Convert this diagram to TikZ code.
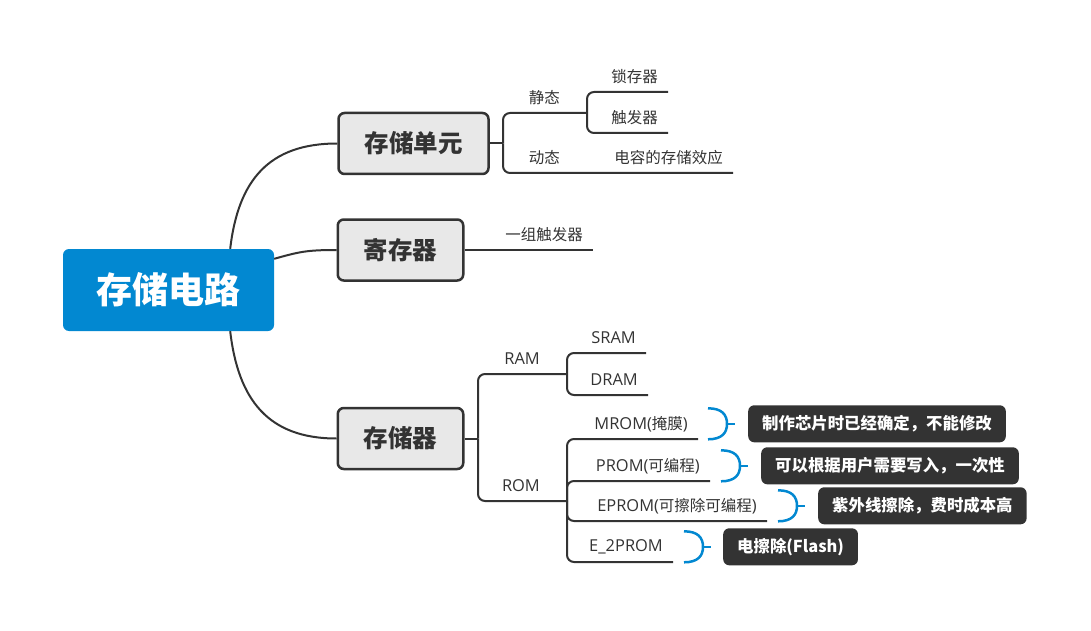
\documentclass[tikz,border=0pt]{standalone}
\usepackage{fontspec}
\setmainfont{Noto Sans CJK SC}
\newfontfamily\latin[Scale=1.06]{Open Sans}
\usetikzlibrary{positioning, calc}
\definecolor{rootblue}{HTML}{0288D1}
\definecolor{linegray}{HTML}{333333}
\definecolor{boxgray}{HTML}{E8E8E8}
\tikzstyle{root} = [rectangle, rounded corners=6pt, fill=rootblue, text=white, font=\fontsize{36}{40}\selectfont\bfseries, minimum width=211pt, minimum height=82pt]
\tikzstyle{main} = [rectangle, rounded corners=6pt, draw=linegray, line width=2.5pt, fill=boxgray, text=linegray, font=\fontsize{24.5}{28}\selectfont\bfseries, inner xsep=26pt, minimum height=61pt]
\tikzstyle{mid} = [anchor=south east, minimum height=30pt, inner xsep=27pt, inner ysep=0pt, text=linegray, font=\fontsize{15.5}{18}\selectfont]
\tikzstyle{leaf} = [mid, inner xsep=10pt]
\tikzstyle{note} = [rectangle, rounded corners=6pt, fill=linegray, text=white, font=\fontsize{16.4}{19}\selectfont\bfseries, inner xsep=14pt, minimum height=37pt]
\tikzstyle{branch} = [draw=linegray, line width=2pt, rounded corners=7pt]
\tikzstyle{brace} = [draw=rootblue, line width=2.5pt]

\begin{document}
\begin{tikzpicture}[x=1pt, y=-1pt]
\useasboundingbox (0,0) rectangle (1091,631);

\node (root) [root] at (168.5,290) {存储电路};
\node (unit) [main] at (413.5,143.5) {存储单元};
\node (reg) [main] at (400.5,250) {寄存器};
\node (mem) [main] at (400.5,438.5) {存储器};

\node (static) [mid] at (587,113) {静态};
\node (dyn) [mid] at (587,173) {动态};
\node (latch) [leaf] at (668,92) {锁存器};
\node (trig) [leaf] at (668,133) {触发器};
\node (cap) [leaf] at (733,173) {电容的存储效应};
\node (group) [leaf] at (593,250) {一组触发器};
\node (ram) [mid] at (567,374) {\latin RAM};
\node (rom) [mid] at (567,501) {\latin ROM};
\node (sram) [leaf] at (646,353) {\latin SRAM};
\node (dram) [leaf] at (648,395) {\latin DRAM};
\node (mrom) [leaf] at (698,439) {{\latin MROM(}掩膜{\latin )}};
\node (prom) [leaf] at (710,481) {{\latin PROM(}可编程{\latin )}};
\node (eprom) [leaf] at (767,521) {{\latin EPROM(}可擦除可编程{\latin )}};
\node (eeprom) [leaf] at (673,562) {\latin E\_2PROM};

\node (mromnote) [note, right=50pt of mrom] {制作芯片时已经确定，不能修改};
\node (promnote) [note, right=51pt of prom] {可以根据用户需要写入，一次性};
\node (epromnote) [note, right=51pt of eprom] {紫外线擦除，费时成本高};
\node (eepromnote) [note, right=50pt of eeprom] {电擦除(Flash)};

\coordinate (unitJ) at (503,143.5);
\coordinate (memJ) at (478,438.5);

% main branches
\draw [branch] ($(root.north east)+(-44,0)$) .. controls +(8,-69) and +(-68,0) .. (unit.west);
\draw [branch] ($(root.north east)+(0,10)$) .. controls +(25,-7) and +(-30,0) .. (reg.west);
\draw [branch] ($(root.south east)+(-44,0)$) .. controls +(8,69) and +(-68,0) .. (mem.west);

\draw [branch] (unit.east) -- (unitJ);
\draw [branch] (unitJ) |- (static.south east);
\draw [branch] (unitJ) |- (dyn.south east) -- (cap.south east);
\draw [branch] (static.south east) |- (latch.south east);
\draw [branch] (static.south east) |- (trig.south east);

\draw [branch] (reg.east) -- (group.south east);

\draw [branch] (mem.east) -- (memJ);
\draw [branch] (memJ) |- (ram.south east);
\draw [branch] (memJ) |- (rom.south east);
\draw [branch] (ram.south east) |- (sram.south east);
\draw [branch] (ram.south east) |- (dram.south east);
\draw [branch] (rom.south east) |- (mrom.south east);
\draw [branch] (rom.south east) |- (prom.south east);
\draw [branch] (rom.south east) |- (eprom.south east);
\draw [branch] (rom.south east) |- (eeprom.south east);

% notes
\draw [brace] ($(mrom.east)+(10,-15.5)$) .. controls +(14,0) and +(0,-9) .. ($(mrom.east)+(29,0)$) .. controls +(0,9) and +(14,0) .. ($(mrom.east)+(10,15.5)$);
\draw [brace] ($(mrom.east)+(29,0)$) -- ($(mrom.east)+(37,0)$);
\draw [brace] ($(prom.east)+(11,-15.5)$) .. controls +(14,0) and +(0,-9) .. ($(prom.east)+(30,0)$) .. controls +(0,9) and +(14,0) .. ($(prom.east)+(11,15.5)$);
\draw [brace] ($(prom.east)+(30,0)$) -- ($(prom.east)+(38,0)$);
\draw [brace] ($(eprom.east)+(11,-15.5)$) .. controls +(14,0) and +(0,-9) .. ($(eprom.east)+(30,0)$) .. controls +(0,9) and +(14,0) .. ($(eprom.east)+(11,15.5)$);
\draw [brace] ($(eprom.east)+(30,0)$) -- ($(eprom.east)+(38,0)$);
\draw [brace] ($(eeprom.east)+(11,-15.5)$) .. controls +(14,0) and +(0,-9) .. ($(eeprom.east)+(30,0)$) .. controls +(0,9) and +(14,0) .. ($(eeprom.east)+(11,15.5)$);
\draw [brace] ($(eeprom.east)+(30,0)$) -- ($(eeprom.east)+(38,0)$);

\end{tikzpicture}
\end{document}
